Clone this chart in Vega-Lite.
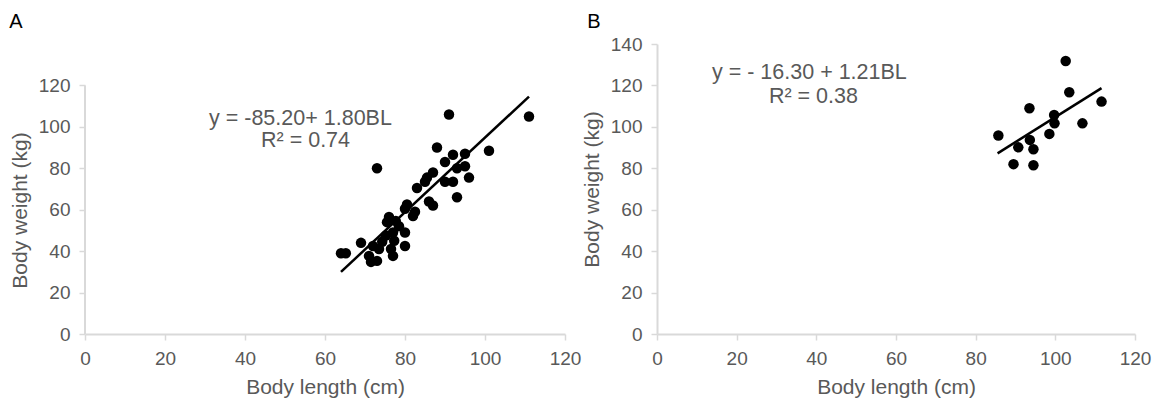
{
  "$schema": "https://vega.github.io/schema/vega-lite/v6.json",
  "background": "white",
  "padding": {"left": 9, "top": 12, "right": 2, "bottom": 2},
  "bounds": "full",
  "spacing": 0,
  "config": {
    "view": {"stroke": null},
    "font": "Liberation Sans",
    "axis": {
      "grid": false,
      "domainColor": "#d9d9d9",
      "domainWidth": 2,
      "tickColor": "#d9d9d9",
      "tickWidth": 1.5,
      "tickSize": 6,
      "labelFont": "Liberation Sans",
      "labelFontSize": 19,
      "labelColor": "#595959",
      "labelPadding": 9,
      "labelFlush": false,
      "titleFont": "Liberation Sans",
      "titleFontSize": 21,
      "titleFontWeight": "normal",
      "titleColor": "#595959",
      "titlePadding": 8
    },
    "title": {"font": "Liberation Sans", "fontSize": 20, "fontWeight": "normal", "color": "#000000", "anchor": "start", "frame": "bounds"}
  },
  "datasets": {
    "a": [
      {"x": 91, "y": 106}, {"x": 111, "y": 105}, {"x": 73, "y": 80}, {"x": 88, "y": 90},
      {"x": 101, "y": 88.5}, {"x": 90, "y": 83}, {"x": 92, "y": 86.5}, {"x": 95, "y": 87},
      {"x": 95, "y": 81}, {"x": 93, "y": 80}, {"x": 96, "y": 75.5}, {"x": 93, "y": 66},
      {"x": 90, "y": 73.5}, {"x": 92, "y": 73.5}, {"x": 87, "y": 78}, {"x": 85.5, "y": 75.5},
      {"x": 85, "y": 73.5}, {"x": 83, "y": 70.5}, {"x": 86, "y": 64}, {"x": 87, "y": 62},
      {"x": 80.5, "y": 62.5}, {"x": 80, "y": 60.5}, {"x": 82.5, "y": 59}, {"x": 82, "y": 57},
      {"x": 76, "y": 56.5}, {"x": 75.5, "y": 54}, {"x": 77.7, "y": 54.5}, {"x": 78.5, "y": 52},
      {"x": 80, "y": 49}, {"x": 77, "y": 49}, {"x": 75.2, "y": 47.5}, {"x": 74.3, "y": 44.5},
      {"x": 77.3, "y": 45}, {"x": 80, "y": 42.5}, {"x": 76.5, "y": 41}, {"x": 77, "y": 37.7},
      {"x": 73.5, "y": 41}, {"x": 72, "y": 42.5}, {"x": 71, "y": 37.7}, {"x": 73, "y": 35.3},
      {"x": 71.5, "y": 34.8}, {"x": 69, "y": 44}, {"x": 64, "y": 39}, {"x": 65.2, "y": 39}
    ],
    "aline": [{"x": 64, "y": 30}, {"x": 111, "y": 114.6}],
    "aaxis": [{"x": 0, "y": 0, "y2": 120}],
    "atext": [
      {"x": 31, "y": 104, "label": "y =  -85.20+ 1.80BL"},
      {"x": 44, "y": 93, "label": "R² = 0.74"}
    ],
    "b": [
      {"x": 102.6, "y": 131.8}, {"x": 103.5, "y": 116.7}, {"x": 111.6, "y": 112.2}, {"x": 93.5, "y": 109},
      {"x": 99.7, "y": 105.7}, {"x": 99.8, "y": 101.7}, {"x": 106.8, "y": 101.7}, {"x": 98.5, "y": 96.6},
      {"x": 85.7, "y": 95.8}, {"x": 93.6, "y": 93.7}, {"x": 94.5, "y": 89.2}, {"x": 90.7, "y": 90.1},
      {"x": 89.5, "y": 82}, {"x": 94.5, "y": 81.5}
    ],
    "bline": [{"x": 85.5, "y": 87.2}, {"x": 111.6, "y": 118.7}],
    "btext": [
      {"x": 13.8, "y": 126, "label": "y = - 16.30 + 1.21BL"},
      {"x": 28.1, "y": 114.4, "label": "R² = 0.38"}
    ]
  },
  "hconcat": [
    {
      "title": {"text": "A", "offset": 12},
      "width": 480,
      "height": 290,
      "layer": [
        {
          "data": {"name": "aaxis"},
          "mark": {"type": "rule", "color": "#d9d9d9", "strokeWidth": 2},
          "encoding": {
            "x": {"field": "x", "type": "quantitative"},
            "y": {"field": "y", "type": "quantitative"},
            "y2": {"field": "y2"}
          }
        },
        {
          "data": {"name": "a"},
          "mark": {"type": "circle", "size": 110, "color": "#000000", "opacity": 1},
          "encoding": {
            "x": {"field": "x", "type": "quantitative", "scale": {"domain": [0, 120], "nice": false},
                  "axis": {"title": "Body length (cm)", "values": [0, 20, 40, 60, 80, 100, 120]}},
            "y": {"field": "y", "type": "quantitative", "scale": {"domain": [0, 140], "nice": false},
                  "axis": {"title": "Body weight (kg)", "domain": false, "values": [0, 20, 40, 60, 80, 100, 120], "titleY": 166}}
          }
        },
        {
          "data": {"name": "aline"},
          "mark": {"type": "line", "color": "#000000", "strokeWidth": 2.5},
          "encoding": {
            "x": {"field": "x", "type": "quantitative"},
            "y": {"field": "y", "type": "quantitative"}
          }
        },
        {
          "data": {"name": "atext"},
          "mark": {"type": "text", "align": "left", "baseline": "middle", "fontSize": 21.5, "color": "#595959"},
          "encoding": {
            "x": {"field": "x", "type": "quantitative"},
            "y": {"field": "y", "type": "quantitative"},
            "text": {"field": "label"}
          }
        }
      ]
    },
    {
      "title": {"text": "B", "offset": 3, "dx": 6},
      "width": 478,
      "height": 290,
      "layer": [
        {
          "data": {"name": "b"},
          "mark": {"type": "circle", "size": 110, "color": "#000000", "opacity": 1},
          "encoding": {
            "x": {"field": "x", "type": "quantitative", "scale": {"domain": [0, 120], "nice": false},
                  "axis": {"title": "Body  length (cm)", "values": [0, 20, 40, 60, 80, 100, 120]}},
            "y": {"field": "y", "type": "quantitative", "scale": {"domain": [0, 140], "nice": false},
                  "axis": {"title": "Body weight (kg)", "values": [0, 20, 40, 60, 80, 100, 120, 140]}}
          }
        },
        {
          "data": {"name": "bline"},
          "mark": {"type": "line", "color": "#000000", "strokeWidth": 2.5},
          "encoding": {
            "x": {"field": "x", "type": "quantitative"},
            "y": {"field": "y", "type": "quantitative"}
          }
        },
        {
          "data": {"name": "btext"},
          "mark": {"type": "text", "align": "left", "baseline": "middle", "fontSize": 21.5, "color": "#595959"},
          "encoding": {
            "x": {"field": "x", "type": "quantitative"},
            "y": {"field": "y", "type": "quantitative"},
            "text": {"field": "label"}
          }
        }
      ]
    }
  ]
}
